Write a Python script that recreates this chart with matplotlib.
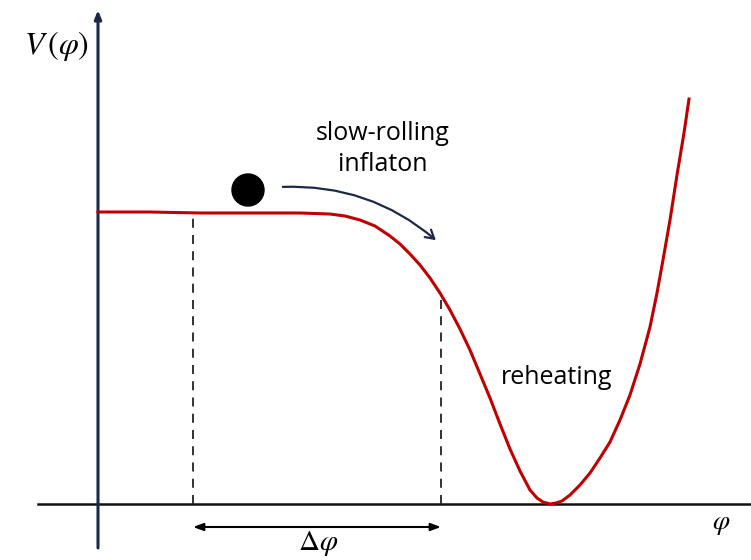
### IMPORTS ###
import matplotlib.pyplot as plt
from matplotlib.patches import Circle, FancyArrowPatch

plt.rcParams['mathtext.fontset'] = 'stix'

### DATA (phi = horizontal position, V = height above the axis) ###
phi = [98, 150, 200, 250, 300, 330, 345, 360, 375, 390, 400, 410, 420, 430, 440,
       450, 460, 470, 480, 490, 500, 510, 520, 530, 537, 543, 550, 556, 562, 570, 580, 590,
       600, 610, 620, 630, 640, 650, 657, 663, 670, 677, 684, 689]
V = [292, 292, 291, 291, 291, 290, 288, 284, 278, 268, 260, 250, 239, 226, 211,
     194, 175, 154, 130, 106, 80, 55, 33, 14, 6, 2, 0, 1, 3, 9, 19, 31,
     46, 62, 84, 109, 140, 177, 211, 244, 284, 329, 371, 405]

phi_start, phi_end = 193, 441      # ends of the slow-roll range
V_start, V_end = 291, 211
ball = (248, 314)

label_top = 'slow-rolling\ninflaton'
label_right = 'reheating'

### FIGURE ###
fig = plt.figure(figsize=(7.51, 5.60), dpi=100)
ax = fig.add_axes([0, 0, 1, 1])
ax.set_xlim(0, 751)
ax.set_ylim(-56, 504)
ax.axis('off')

# axes of the sketch
ax.plot([38, 751], [0, 0], color='#111111', lw=1.8, zorder=2)
ax.annotate('', xy=(98, 494), xytext=(98, -44),
            arrowprops=dict(arrowstyle='-|>,head_length=0.5,head_width=0.2',
                            color='#1c2a48', lw=2.2, shrinkA=0, shrinkB=0))

# potential
ax.plot(phi, V, color='#c00000', lw=2.2, zorder=3, solid_joinstyle='round')

# dashed guides
ax.plot([phi_start, phi_start], [0, V_start], color='#222222', lw=1.3, ls=(0, (5, 4)))
ax.plot([phi_end, phi_end], [0, V_end], color='#222222', lw=1.3, ls=(0, (5, 4)))

# delta phi arrow
ax.annotate('', xy=(phi_end, -23), xytext=(phi_start, -23),
            arrowprops=dict(arrowstyle='<|-|>,head_length=0.6,head_width=0.22',
                            color='black', lw=1.5, shrinkA=0, shrinkB=0))

# ball and rolling arrow
ax.add_patch(Circle(ball, 16, color='black', zorder=4))
ax.add_patch(FancyArrowPatch((280, 317), (438, 262), connectionstyle='arc3,rad=-0.2',
                             arrowstyle='->,head_length=6,head_width=3.5',
                             color='#1c2a48', lw=1.6))

# labels
ax.text(383, 355, label_top, ha='center', va='center', fontsize=18,
        family='Open Sans', linespacing=1.3)
ax.text(557, 126, label_right, ha='center', va='center', fontsize=18, family='Open Sans')
ax.text(57, 458, r'$V\,(\varphi)$', ha='center', va='center', fontsize=23)
ax.text(721, -19, r'$\varphi$', ha='center', va='center', fontsize=20)
ax.text(318, -39, r'$\Delta\varphi$', ha='center', va='center', fontsize=21)

fig.savefig('out.png', dpi=100)
